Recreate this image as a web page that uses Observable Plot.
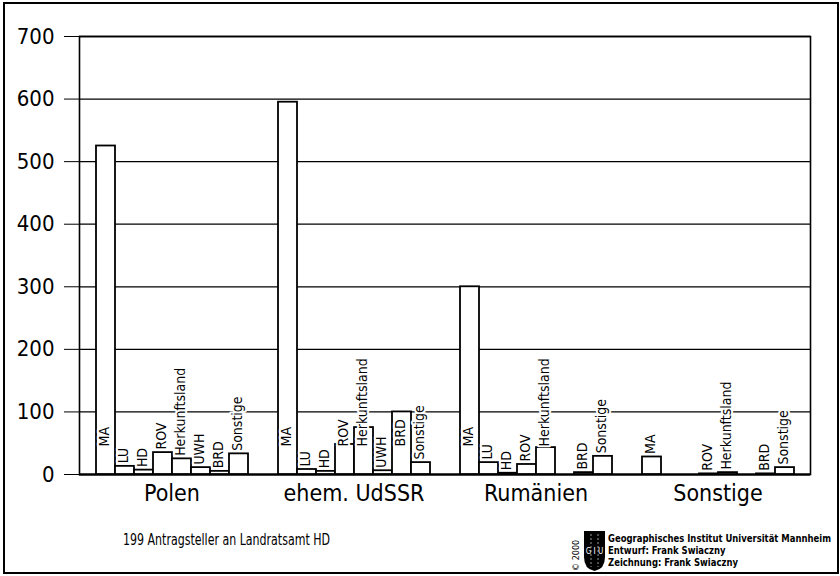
<!DOCTYPE html>
<html><head><meta charset="utf-8">
<script src="https://cdn.jsdelivr.net/npm/d3@7"></script>
<script src="https://cdn.jsdelivr.net/npm/@observablehq/plot@0.6"></script>
<style>
body{margin:0;background:#fff;}
#wrap{position:relative;width:840px;height:576px;overflow:hidden;font-family:"DejaVu Sans",sans-serif;font-stretch:condensed;color:#000;background:#fff;}
#wrap svg text{font-stretch:condensed;}
#outer{position:absolute;left:3px;top:2px;width:836px;height:572px;box-sizing:border-box;border:2px solid #000;}
.layer{position:absolute;left:0;top:0;}
#note{position:absolute;left:123px;top:530px;font-size:16px;white-space:nowrap;transform-origin:0 0;}
#credits{position:absolute;left:608px;top:533px;font-size:10px;font-weight:bold;line-height:12px;white-space:nowrap;transform-origin:0 0;}
#logo{position:absolute;left:566px;top:529px;}
</style></head><body>
<div id="wrap">
  <div id="outer"></div>
  <div id="bg" class="layer"></div>
  <div id="fg" class="layer"></div>
  <div id="note">199 Antragsteller an Landratsamt HD</div>
  <svg id="logo" width="42" height="44" viewBox="0 0 42 44">
    <text transform="translate(13,42) rotate(-90)" font-size="9" font-family="DejaVu Sans, sans-serif">© 2000</text>
    <path d="M18 2 H39 V28 Q39 40 28.5 42 Q18 40 18 28 Z" fill="#000"/>
    <path d="M25 5 V38 M32 5 V38" stroke="#fff" stroke-width="0.6" stroke-dasharray="2 2" fill="none"/>
    <text x="28.5" y="25" font-size="8" fill="#fff" text-anchor="middle" font-family="DejaVu Sans, sans-serif">G I U</text>
  </svg>
  <div id="credits">Geographisches Institut Universität Mannheim<br>Entwurf: Frank Swiaczny<br>Zeichnung: Frank Swiaczny</div>
</div>
<script>
const groups = ["Polen", "ehem. UdSSR", "Rumänien", "Sonstige"];
const categories = ["MA", "LU", "HD", "ROV", "Herkunftsland", "UWH", "BRD", "Sonstige"];
const polen = [525, 13, 7, 35, 25, 11, 5, 33];
const udssr = [595, 8, 5, 48, 75, 6, 100, 19];
const rumaenien = [300, 19, 2, 16, 43, 0, 3, 29];
const sonstige = [28, 0, 0, 1, 3, 0, 1, 11];
const yTicks = [0, 100, 200, 300, 400, 500, 600, 700];

const series = [polen, udssr, rumaenien, sonstige];
const table = groups.flatMap((g, i) => categories.map((c, j) => ({group: g, cat: c, value: series[i][j]})));

const font = '"DejaVu Sans",sans-serif';
const dims = {width: 840, height: 510, marginTop: 36, marginBottom: 36, marginLeft: 79, marginRight: 30};
const labelCap = 40;

const bg = Plot.plot({
  ...dims,
  style: {fontFamily: font, fontSize: "22px", fontStretch: "condensed", background: "transparent", color: "black"},
  y: {domain: [0, 700], ticks: yTicks, tickSize: 15, tickPadding: 10, label: null},
  marks: [
    Plot.ruleY(yTicks, {stroke: "black", strokeWidth: 1.3}),
    Plot.ruleY([0], {stroke: "black", strokeWidth: 2.2}),
    Plot.frame({stroke: "black", strokeWidth: 1.6})
  ]
});
document.getElementById("bg").appendChild(bg);

const fg = Plot.plot({
  ...dims,
  style: {fontFamily: font, fontSize: "23px", fontStretch: "condensed", background: "transparent", color: "black"},
  facet: {data: table, x: "group"},
  fx: {domain: groups, paddingInner: 0.14, paddingOuter: 0.07, axis: "bottom", tickSize: 0, tickPadding: 10, label: null},
  x: {domain: categories, padding: 0, axis: null},
  y: {domain: [0, 700], axis: null},
  marks: [
    Plot.barY(table, {x: "cat", y: "value", fill: "white", stroke: "black", strokeWidth: 1.8}),
    Plot.text(table, {filter: d => d.value > 0, x: "cat", y: d => Math.min(d.value, labelCap), text: "cat",
      rotate: -90, textAnchor: "start", fontSize: 14, fill: "black", stroke: "white", strokeWidth: 4,
      paintOrder: "stroke", dy: -3, dx: -1})
  ]
});
document.getElementById("fg").appendChild(fg);

// fit text blocks to their widths in the reference
function fit(id, target) {
  const el = document.getElementById(id);
  const w = el.getBoundingClientRect().width;
  if (w > 0) el.style.transform = `scaleX(${target / w})`;
}
fit("credits", 223);
fit("note", 207);
</script>
</body></html>
